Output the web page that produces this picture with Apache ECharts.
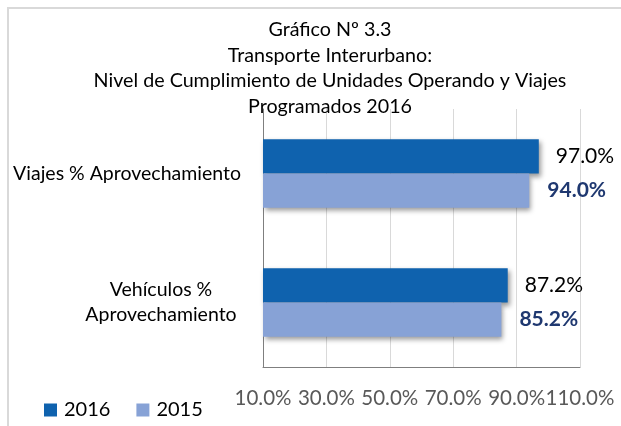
<!DOCTYPE html>
<html>
<head>
<meta charset="utf-8">
<script src="https://cdn.jsdelivr.net/npm/echarts@6/dist/echarts.min.js"></script>
<style>
  html, body { margin: 0; padding: 0; background: #fff; }
  #main { width: 621px; height: 426px; }
</style>
</head>
<body>
<div id="main"></div>
<script>
// datos
var categorias = ['Viajes % Aprovechamiento', 'Vehículos %\nAprovechamiento'];
var serie2016 = [97.0, 87.2];
var serie2015 = [94.0, 85.2];
var ticks = [10, 30, 50, 70, 90, 110];

var fuente = 'Lato, "Open Sans", sans-serif';
var sombra = {
    shadowColor: 'rgba(0,0,0,0.4)',
    shadowBlur: 5,
    shadowOffsetX: 2,
    shadowOffsetY: 3
};

var myChart = echarts.init(document.getElementById('main'));
var option = {
    animation: false,
    textStyle: { fontFamily: fuente },
    graphic: [{
        type: 'rect',
        shape: { x: 8, y: 8, width: 800, height: 600 },
        style: { fill: 'none', stroke: '#d9d9d9', lineWidth: 2 },
        silent: true
    }],
    title: {
        text: 'Gráfico Nº 3.3\nTransporte Interurbano:\nNivel de Cumplimiento de Unidades Operando y Viajes\nProgramados 2016',
        left: 325,
        textAlign: 'center',
        top: 12,
        textStyle: {
            fontFamily: fuente,
            fontSize: 19.7,
            fontWeight: 'normal',
            color: '#000',
            lineHeight: 25.5
        }
    },
    legend: {
        data: ['2016', '2015'],
        left: 44,
        top: 400,
        padding: 0,
        itemWidth: 13,
        itemHeight: 13,
        itemGap: 26,
        icon: 'rect',
        textStyle: { fontFamily: fuente, fontSize: 20, color: '#000', padding: [0, 0, 0, 2] }
    },
    grid: {
        left: 263,
        right: 41,
        top: 109,
        bottom: 59
    },
    xAxis: {
        type: 'value',
        min: ticks[0],
        max: ticks[ticks.length - 1],
        interval: 20,
        axisLine: { show: true, lineStyle: { color: '#7f7f7f', width: 1 } },
        axisTick: { show: false },
        splitLine: { show: true, lineStyle: { color: '#d9d9d9', width: 1 } },
        axisLabel: {
            margin: 21,
            fontFamily: fuente,
            fontSize: 20.5,
            color: '#595959',
            showMinLabel: true,
            showMaxLabel: true,
            hideOverlap: false,
            formatter: function (v) { return v.toFixed(1) + '%'; }
        }
    },
    yAxis: {
        type: 'category',
        inverse: true,
        data: categorias,
        axisLine: { show: true, lineStyle: { color: '#7f7f7f', width: 1 } },
        axisTick: { show: false },
        axisLabel: {
            margin: 22,
            fontFamily: fuente,
            fontSize: 19.5,
            color: '#000',
            lineHeight: 25,
            formatter: function (v) {
                if (v.indexOf('\n') < 0) return v;
                return v.split('\n').map(function (s) { return '{c|' + s + '}'; }).join('\n');
            },
            rich: {
                c: { width: 160, align: 'center', fontSize: 19.5, lineHeight: 25, fontFamily: fuente, color: '#000' }
            }
        }
    },
    series: [
        {
            name: '2016',
            type: 'bar',
            data: serie2016,
            barCategoryGap: '47%',
            barGap: '0%',
            itemStyle: Object.assign({ color: '#0f62ae' }, sombra),
            label: {
                show: true,
                position: 'right',
                distance: 17,
                fontFamily: fuente,
                fontSize: 21,
                color: '#000',
                formatter: function (p) { return p.value.toFixed(1) + '%'; }
            }
        },
        {
            name: '2015',
            type: 'bar',
            data: serie2015,
            barCategoryGap: '47%',
            barGap: '0%',
            itemStyle: Object.assign({ color: '#87a2d6' }, sombra),
            label: {
                show: true,
                position: 'right',
                distance: 18,
                fontFamily: fuente,
                fontSize: 21,
                fontWeight: 'bold',
                color: '#1f3870',
                formatter: function (p) { return p.value.toFixed(1) + '%'; }
            }
        }
    ]
};
myChart.setOption(option);
</script>
</body>
</html>
